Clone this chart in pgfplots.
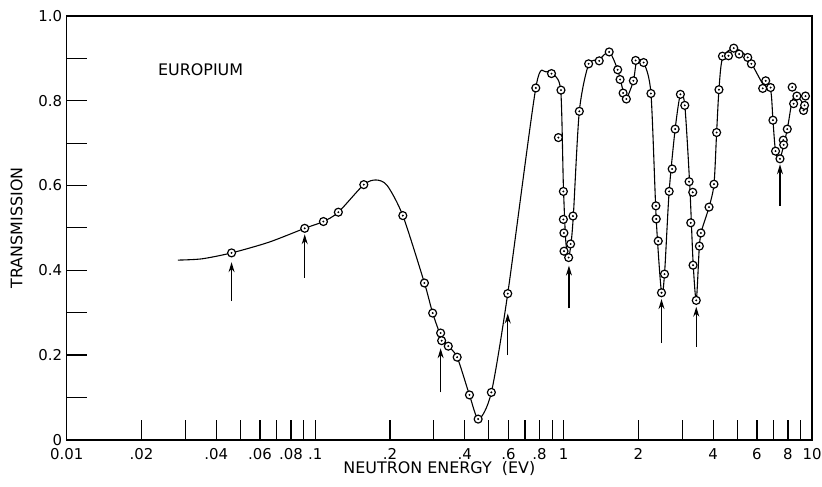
\documentclass[border=0pt]{standalone}
\usepackage{fontspec}
\setmainfont{DejaVu Sans}
\usepackage{pgfplots}
\pgfplotsset{compat=1.18}
\usepackage{pgfplotstable}
\usetikzlibrary{arrows.meta}

% measured points (energy in eV, transmission)
\pgfplotstableread{
x y
0.0461 0.441
0.0908 0.499
0.108 0.515
0.124 0.537
0.157 0.602
0.2254 0.529
0.2754 0.370
0.2972 0.299
0.320 0.252
0.323 0.234
0.3435 0.221
0.373 0.195
0.418 0.106
0.453 0.049
0.512 0.112
0.596 0.345
0.773 0.830
0.894 0.864
0.976 0.825
0.953 0.713
0.998 0.586
0.998 0.520
1.003 0.488
1.004 0.445
1.048 0.430
1.067 0.462
1.091 0.528
1.157 0.775
1.261 0.887
1.391 0.894
1.526 0.915
1.651 0.873
1.688 0.850
1.736 0.818
1.789 0.804
1.909 0.847
1.95 0.895
2.099 0.890
2.247 0.817
2.353 0.552
2.36 0.521
2.404 0.469
2.478 0.347
2.548 0.391
2.66 0.586
2.735 0.639
2.812 0.733
2.952 0.815
3.075 0.789
3.2 0.609
3.31 0.584
3.25 0.512
3.32 0.412
3.42 0.329
3.52 0.457
3.57 0.488
3.85 0.549
4.03 0.603
4.13 0.725
4.22 0.826
4.36 0.905
4.61 0.906
4.84 0.924
5.09 0.910
5.51 0.902
5.70 0.887
6.51 0.847
6.33 0.829
6.81 0.831
6.96 0.754
7.13 0.681
7.43 0.663
7.66 0.707
7.69 0.696
7.95 0.733
8.32 0.832
8.43 0.793
8.69 0.811
9.24 0.777
9.41 0.811
9.33 0.789
}\points

% hand-drawn fitted curve
\pgfplotstableread{
x y
0.028 0.424
0.035 0.427
0.0461 0.441
0.065 0.466
0.0908 0.499
0.108 0.515
0.124 0.537
0.157 0.602
0.176 0.613
0.195 0.600
0.2254 0.529
0.2754 0.370
0.2972 0.299
0.321 0.245
0.3435 0.221
0.373 0.195
0.418 0.106
0.455 0.049
0.512 0.112
0.596 0.345
0.773 0.830
0.85 0.868
0.92 0.860
0.975 0.820
0.998 0.600
1.02 0.470
1.045 0.430
1.07 0.460
1.095 0.530
1.157 0.775
1.26 0.885
1.39 0.897
1.526 0.915
1.65 0.873
1.75 0.815
1.79 0.804
1.91 0.847
1.97 0.893
2.099 0.890
2.247 0.817
2.36 0.520
2.478 0.347
2.548 0.391
2.66 0.586
2.812 0.733
2.952 0.815
3.075 0.789
3.22 0.600
3.32 0.420
3.42 0.329
3.52 0.457
3.60 0.495
3.85 0.549
4.03 0.603
4.13 0.725
4.22 0.826
4.36 0.900
4.84 0.924
5.51 0.902
6.33 0.840
6.81 0.825
6.96 0.754
7.13 0.681
7.43 0.663
7.95 0.733
8.32 0.800
8.69 0.811
9.30 0.790
}\curve

\begin{document}
\begin{tikzpicture}
\begin{axis}[
    xmode=log,
    scale only axis,
    width=749pt, height=426pt,
    xmin=0.01, xmax=10,
    ymin=0, ymax=1,
    axis line style={line width=1.6pt},
    tick style={line width=1.2pt, black},
    major tick length=20pt,
    tick align=inside,
    xtick pos=bottom, ytick pos=left,
    xtick={0.01,0.02,0.03,0.04,0.05,0.06,0.07,0.08,0.09,
           0.1,0.2,0.3,0.4,0.5,0.6,0.7,0.8,0.9,
           1,2,3,4,5,6,7,8,9,10},
    xticklabels={0.01,.02,,.04,,.06,,.08,,.1,.2,,.4,,.6,,.8,,1,2,,4,,6,,8,,10},
    ytick={0,0.1,0.2,0.3,0.4,0.5,0.6,0.7,0.8,0.9,1.0},
    yticklabels={0,,0.2,,0.4,,0.6,,0.8,,1.0},
    minor tick num=0,
    ticklabel style={font=\fontsize{15}{15}\selectfont},
    xticklabel style={yshift=-5pt},
    yticklabel style={xshift=-1pt},
    xlabel={NEUTRON ENERGY\ \ (EV)},
    ylabel={TRANSMISSION},
    label style={font=\fontsize{16}{16}\selectfont},
    xlabel style={yshift=5pt},
    ylabel style={yshift=9pt},
    clip=false,
    arr/.style={black, line width=1.2pt, -{Stealth[length=10pt, width=6pt]}},
]
\addplot[black, line width=1.1pt, smooth, tension=0.45] table[x=x, y=y] {\curve};
\addplot[only marks, mark=*, mark size=4pt,
    mark options={fill=white, draw=black, line width=1.2pt}] table[x=x, y=y] {\points};
\addplot[only marks, mark=*, mark size=0.75pt, black] table[x=x, y=y] {\points};
% resonance arrows
\addplot[arr] coordinates {(0.0461,0.327) (0.0461,0.419)};
\addplot[arr] coordinates {(0.0908,0.382) (0.0908,0.485)};
\addplot[arr] coordinates {(0.320,0.112) (0.320,0.216)};
\addplot[arr] coordinates {(0.596,0.200) (0.596,0.298)};
\addplot[arr] coordinates {(1.051,0.310) (1.051,0.411)};
\addplot[arr] coordinates {(2.478,0.228) (2.478,0.332)};
\addplot[arr] coordinates {(3.42,0.220) (3.42,0.314)};
\addplot[arr] coordinates {(7.43,0.552) (7.43,0.650)};
\node[font=\fontsize{16}{16}\selectfont] at (axis cs:0.0346,0.872) {EUROPIUM};
\end{axis}
\pgfresetboundingbox
\path (-67pt,-47pt) rectangle (759pt,442pt);
\end{tikzpicture}
\end{document}
